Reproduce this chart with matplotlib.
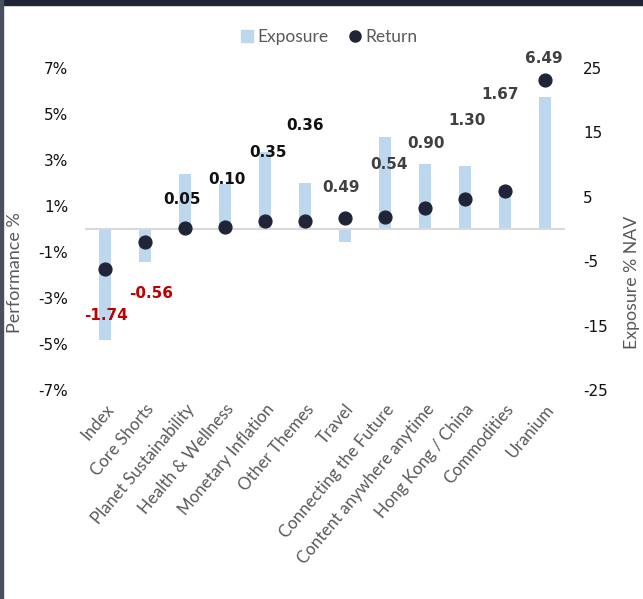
import matplotlib
matplotlib.use("Agg")
import matplotlib.pyplot as plt
from matplotlib.lines import Line2D
from matplotlib.patches import Rectangle
import numpy as np

# data
categories = ["Index", "Core Shorts", "Planet Sustainability", "Health & Wellness",
              "Monetary Inflation", "Other Themes", "Travel", "Connecting the Future",
              "Content anywhere anytime", "Hong Kong / China", "Commodities", "Uranium"]
exposure = [-17.3, -5.2, 8.5, 7.0, 11.9, 7.1, -2.0, 14.3, 10.1, 9.8, 6.6, 20.5]
returns = [-1.74, -0.56, 0.05, 0.10, 0.35, 0.36, 0.49, 0.54, 0.90, 1.30, 1.67, 6.49]
left_ticks = [-7, -5, -3, -1, 1, 3, 5, 7]
right_ticks = [-25, -15, -5, 5, 15, 25]

# label placement (pixel offsets from each dot) and colours
label_offsets = [(1, -46), (6, -52), (-3, 28), (2, 47), (3, 68), (0, 95),
                 (-4, 30), (4, 52), (1, 65), (2, 79), (-5, 96), (-1, 21)]
label_colors = ["#c00000", "#c00000", "#111111", "#111111", "#111111", "#111111",
                "#404040", "#404040", "#404040", "#404040", "#404040", "#404040"]

bar_color = "#bdd7ee"
dot_color = "#1f2437"
text_gray = "#595959"

fig = plt.figure(figsize=(6.43, 5.99), dpi=100)
ax = fig.add_axes([85 / 643, 1 - 390 / 599, 480 / 643, 322 / 599])
ax2 = ax.twinx()

x = np.arange(len(categories))

ax2.bar(x, exposure, width=0.3, color=bar_color, zorder=1)
ax2.set_ylim(-25, 25)
ax.set_ylim(-7, 7)
ax.set_xlim(-0.5, len(categories) - 0.5)

ax.axhline(0, color="#d9d9d9", lw=1.5, zorder=0)

# returns on the left axis, drawn above the bars
ax.set_zorder(ax2.get_zorder() + 1)
ax.patch.set_visible(False)
ax.scatter(x, returns, s=85, color=dot_color, zorder=3)

for xi, r, off, c in zip(x, returns, label_offsets, label_colors):
    ax.annotate(f"{r:.2f}", (xi, r), xytext=off, textcoords="offset pixels",
                ha="center", va="center", fontsize=11, fontweight="bold",
                color=c, family="DejaVu Sans")

for a in (ax, ax2):
    for s in a.spines.values():
        s.set_visible(False)
    a.tick_params(length=0)

ax.set_yticks(left_ticks)
ax.set_yticklabels([f"{t}%" for t in left_ticks], fontsize=11, color="#111111")
ax.tick_params(axis="y", pad=12)
ax2.set_yticks(right_ticks)
ax2.set_yticklabels([str(t) for t in right_ticks], fontsize=11, color="#111111")
ax2.tick_params(axis="y", pad=13)

ax.set_xticks(x)
ax.set_xticklabels(categories, rotation=50, ha="right", rotation_mode="anchor",
                   fontsize=12.2, color=text_gray, family="Lato")
ax.tick_params(axis="x", pad=8)

fig.text(15 / 643, 1 - 273 / 599, "Performance %", rotation=90, ha="center",
         va="center", fontsize=13, color=text_gray, family="Lato")
fig.text(632 / 643, 1 - 282 / 599, "Exposure % NAV", rotation=90, ha="center",
         va="center", fontsize=12.8, color=text_gray, family="Lato")

handles = [Line2D([], [], marker="s", ls="", color=bar_color, markersize=8),
           Line2D([], [], marker="o", ls="", color=dot_color, markersize=8)]
fig.legend(handles, ["Exposure", "Return"], loc="center", bbox_to_anchor=(327 / 643, 1 - 37 / 599),
           ncol=2, frameon=False, handletextpad=0.0, columnspacing=0.9, handlelength=1.2,
           prop={"family": "Lato", "size": 12.5}, labelcolor=text_gray)

# frame bits from the source screenshot
fig.patches.append(Rectangle((0, 1 - 5 / 599), 1, 5 / 599, transform=fig.transFigure,
                             color="#1f2437", zorder=10))
fig.patches.append(Rectangle((0, 0), 2.5 / 643, 1, transform=fig.transFigure,
                             color="#4a4f5e", zorder=10))

fig.savefig("out.png", dpi=100)
